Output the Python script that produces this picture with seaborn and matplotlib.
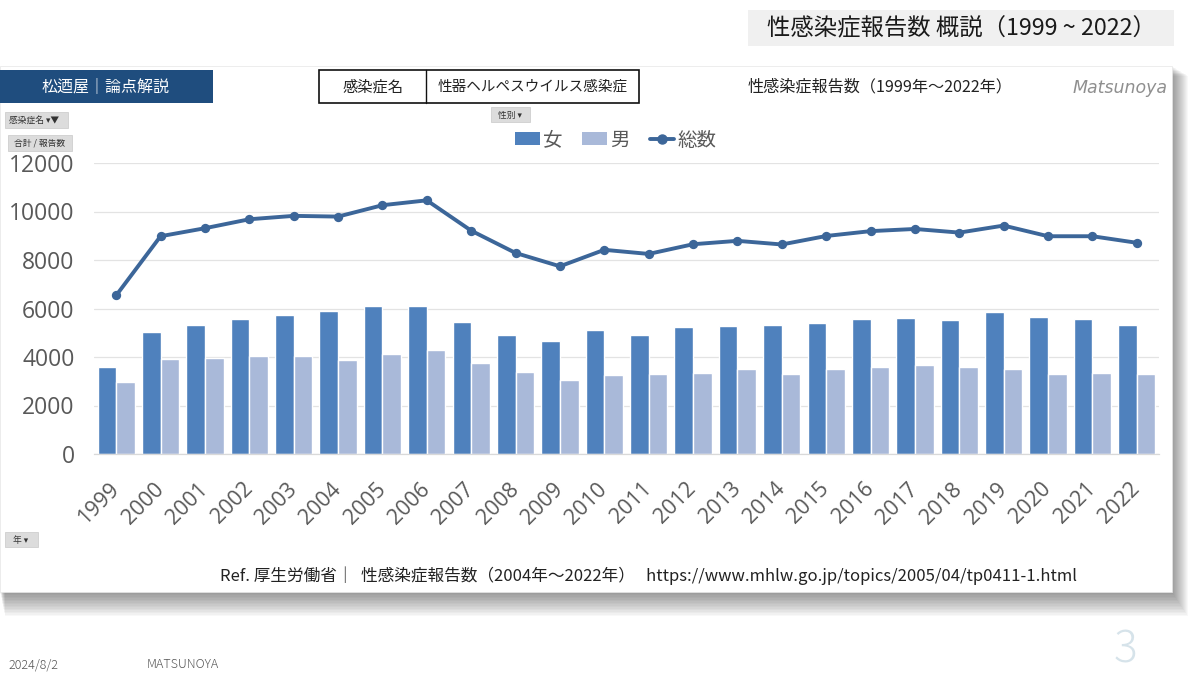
import matplotlib
matplotlib.use("Agg")
import matplotlib.pyplot as plt
from matplotlib.patches import Rectangle, Patch
from matplotlib.lines import Line2D
import seaborn as sns
import pandas as pd

years = [str(y) for y in range(1999, 2023)]
female = [3570, 5030, 5340, 5580, 5750, 5890, 6110, 6110, 5450, 4890, 4660, 5120,
          4920, 5230, 5260, 5340, 5410, 5550, 5620, 5520, 5860, 5660, 5580, 5340]
male = [2980, 3900, 3950, 4060, 4060, 3870, 4120, 4280, 3750, 3380, 3050, 3250,
        3300, 3360, 3490, 3300, 3520, 3600, 3690, 3570, 3520, 3310, 3360, 3310]
total = [6540, 8980, 9310, 9680, 9820, 9790, 10260, 10460, 9210, 8290, 7740, 8420,
         8250, 8650, 8790, 8640, 8990, 9190, 9280, 9130, 9420, 8980, 8980, 8710]
series_labels = ["女", "男", "総数"]
yticks = [0, 2000, 4000, 6000, 8000, 10000, 12000]

c_f = "#4f81bd"
c_m = "#a9b9d9"
c_t = "#3c6699"
gray_txt = "#595959"

sns.set_theme(style="white")
plt.rcParams["font.family"] = ["Noto Sans CJK JP", "DejaVu Sans"]

W, H = 1200, 675
fig = plt.figure(figsize=(12, 6.75), dpi=100)
fig.patch.set_facecolor("white")


def fx(x):
    return x / W


def fy(y):
    return 1 - y / H


def frect(x0, y0, x1, y1, **kw):
    r = Rectangle((fx(x0), fy(y1)), fx(x1) - fx(x0), fy(y0) - fy(y1),
                  transform=fig.transFigure, **kw)
    fig.add_artist(r)
    return r


def ftext(x, y, s, **kw):
    return fig.text(fx(x), fy(y), s, **kw)


# panel shadow
for i in range(16, 0, -1):
    frect(0 + i * 0.3, 66 + i * 0.6, 1172 + i * 1.0, 592 + i * 1.5,
          facecolor="#000000", alpha=0.028, edgecolor="none", zorder=0)
frect(0, 66, 1172, 592, facecolor="white", edgecolor="#e6e6e6", lw=0.5, zorder=0.5)

# slide title box
frect(748, 10, 1174, 46, facecolor="#f0f0f0", edgecolor="none", zorder=1)
ftext(961, 29, "性感染症報告数 概説（1999 ~ 2022）", ha="center", va="center",
      fontsize=16.8, color="#1a1a1a", zorder=2)

# dark blue tag
frect(0, 70, 213, 103, facecolor="#1f4d7e", edgecolor="none", zorder=1)
ftext(106, 87, "松迺屋｜論点解説", ha="center", va="center", fontsize=11.5,
      color="white", zorder=2)

# filter box
frect(319, 70, 639, 103, facecolor="white", edgecolor="#111111", lw=1.2, zorder=1)
fig.add_artist(Line2D([fx(426), fx(426)], [fy(70), fy(103)], transform=fig.transFigure,
                      color="#111111", lw=1.0, zorder=2))
ftext(373, 87, "感染症名", ha="center", va="center", fontsize=11, color="#222222", zorder=2)
ftext(533, 87, "性器ヘルペスウイルス感染症", ha="center", va="center", fontsize=10.5,
      color="#222222", zorder=2)

# chart title and signature
ftext(880, 87, "性感染症報告数（1999年～2022年）", ha="center", va="center",
      fontsize=11.6, color="#222222", zorder=2)
ftext(1168, 88, "Matsunoya", ha="right", va="center", fontsize=12.5, color="#8f8f8f",
      fontstyle="italic", family=["DejaVu Sans"], fontweight="light", zorder=2)

# small pivot buttons
btn_kw = dict(facecolor="#dcdcdc", edgecolor="#c8c8c8", lw=0.5, zorder=1)
frect(5, 112, 68, 128, **btn_kw)
ftext(9, 120, "感染症名 ▾▼", ha="left", va="center", fontsize=6.3, color="#333333",
      family=["Noto Sans CJK JP", "DejaVu Sans"], zorder=2)
frect(8, 135, 72, 151, **btn_kw)
ftext(40, 143, "合計 / 報告数", ha="center", va="center", fontsize=6.3, color="#333333", zorder=2)
frect(491, 107, 530, 122, **btn_kw)
ftext(510, 115, "性別 ▾", ha="center", va="center", fontsize=6.3, color="#333333",
      family=["Noto Sans CJK JP", "DejaVu Sans"], zorder=2)
frect(5, 532, 38, 547, **btn_kw)
ftext(21, 540, "年 ▾", ha="center", va="center", fontsize=6.3, color="#333333",
      family=["Noto Sans CJK JP", "DejaVu Sans"], zorder=2)

# footer texts
ftext(648, 576, "Ref. 厚生労働省｜  性感染症報告数（2004年～2022年）   https://www.mhlw.go.jp/topics/2005/04/tp0411-1.html",
      ha="center", va="center", fontsize=12.0, color="#222222", zorder=2)
ftext(8, 665, "2024/8/2", ha="left", va="center", fontsize=9, color="#555555",
      fontweight="light", zorder=2)
ftext(147, 665, "MATSUNOYA", ha="left", va="center", fontsize=9, color="#555555",
      fontweight="light", zorder=2)
ftext(1125, 650, "3", ha="center", va="center", fontsize=32, color="#d6e3ea",
      fontweight="light", zorder=2)

# main axes
ax = fig.add_axes([fx(94), fy(454), fx(1159) - fx(94), fy(163) - fy(454)])
ax.set_facecolor("none")
ax.set_zorder(3)

df = pd.DataFrame({
    "年": years * 2,
    "報告数": female + male,
    "性別": [series_labels[0]] * len(years) + [series_labels[1]] * len(years),
})
sns.barplot(data=df, x="年", y="報告数", hue="性別", hue_order=series_labels[:2],
            palette={series_labels[0]: c_f, series_labels[1]: c_m}, saturation=1,
            width=0.84, legend=False, ax=ax, zorder=2)
sns.pointplot(x=years, y=total, color=c_t, markers="o", markersize=4.6,
              linewidth=2.8, ax=ax, zorder=4)

ax.set_ylim(0, 12000)
ax.set_xlim(-0.5, len(years) - 0.5)
ax.set_yticks(yticks)
ax.set_yticklabels([str(v) for v in yticks])
ax.yaxis.grid(True, color="#e3e3e3", lw=0.9, zorder=0)
ax.xaxis.grid(False)
ax.set_axisbelow(True)
for s in ["top", "right", "left"]:
    ax.spines[s].set_visible(False)
ax.spines["bottom"].set_color("#d9d9d9")
ax.spines["bottom"].set_linewidth(0.9)
ax.set_xlabel("")
ax.set_ylabel("")
ax.tick_params(axis="y", length=0, pad=14, labelsize=16.5, labelcolor=gray_txt)
ax.tick_params(axis="x", length=0, pad=23, labelsize=15.5, labelcolor=gray_txt)
for lab in ax.get_yticklabels():
    lab.set_family(["Open Sans", "DejaVu Sans"])
for lab in ax.get_xticklabels():
    lab.set_rotation(45)
    lab.set_ha("right")
    lab.set_va("center")
    lab.set_rotation_mode("anchor")
    lab.set_family(["Open Sans", "DejaVu Sans"])

handles = [
    Patch(facecolor=c_f, edgecolor="none"),
    Patch(facecolor=c_m, edgecolor="none"),
    Line2D([0], [0], color=c_t, lw=2.8, marker="o", markersize=6.5),
]
fig.legend(handles, series_labels, loc="center", bbox_to_anchor=(fx(616), fy(140)),
           ncol=3, frameon=False, fontsize=14, labelcolor=gray_txt,
           handlelength=1.25, handleheight=0.6, handletextpad=0.2, columnspacing=1.0)

fig.savefig("out.png", dpi=100, facecolor="white")
